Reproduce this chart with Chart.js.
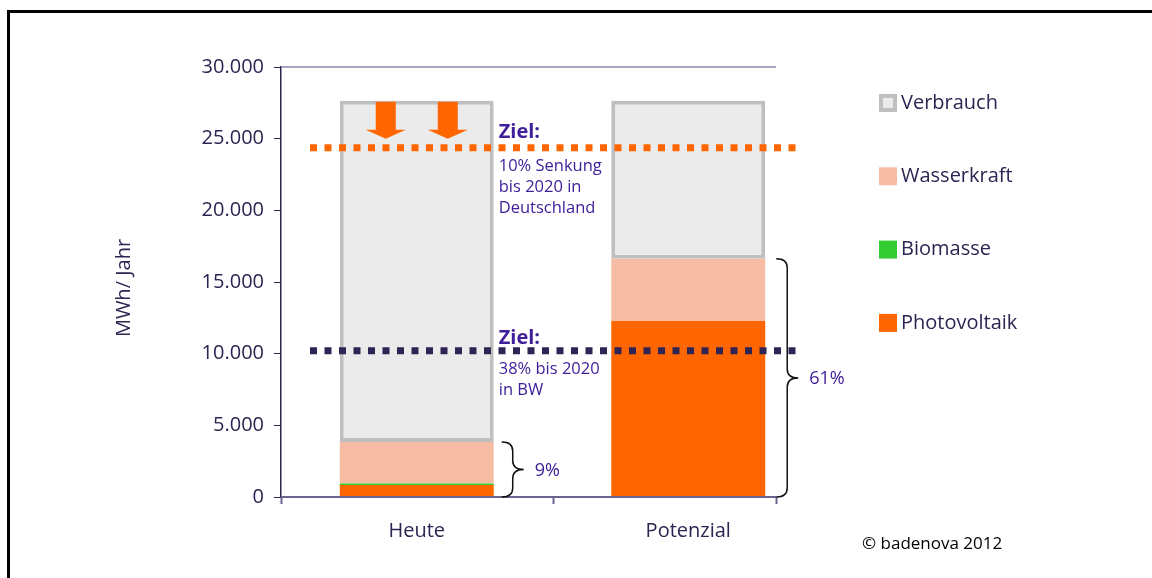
<!DOCTYPE html>
<html>
<head>
<meta charset="utf-8">
<script src="https://cdn.jsdelivr.net/npm/chart.js@4.4.1/dist/chart.umd.min.js"></script>
<style>
  html, body { margin: 0; padding: 0; background: #fff; }
  canvas { display: block; }
</style>
</head>
<body>
<canvas id="chart1" width="1152" height="578"></canvas>
<script>
// Daten (MWh/Jahr)
const categories = ['Heute', 'Potenzial'];
const photovoltaik = [840, 12280];
const biomasse = [110, 0];
const wasserkraft = [2890, 4340];
const verbrauch = [27650, 27650]; // Gesamtverbrauch
const zielDeutschland = 24370; // 10% Senkung
const zielBW = 10200; // 38% bis 2020
const anteile = ['9%', '61%'];

const navy = '#2E2452';
const purple = '#40209A';
const orange = '#FF6600';
const fontFamily = "'Open Sans', 'Noto Sans', sans-serif";

Chart.defaults.font.family = fontFamily;
Chart.defaults.color = navy;

function formatDe(v) {
  return String(v).replace(/\B(?=(\d{3})+(?!\d))/g, '.');
}

// Verbrauch wird als Rest über den Erneuerbaren gestapelt
const erneuerbar = categories.map((c, i) => photovoltaik[i] + biomasse[i] + wasserkraft[i]);
const verbrauchRest = categories.map((c, i) => verbrauch[i] - erneuerbar[i]);

const legendItems = [
  { label: 'Verbrauch', fill: '#EBEBEB', border: '#BFBFBF' },
  { label: 'Wasserkraft', fill: '#F7BDA4' },
  { label: 'Biomasse', fill: '#33CC33' },
  { label: 'Photovoltaik', fill: orange },
];

function drawBrace(ctx, x0, x1, yTop, yBot) {
  const xm = x0 + (x1 - x0) * 0.5;
  const ymid = (yTop + yBot) / 2;
  const r = 9;
  ctx.beginPath();
  ctx.moveTo(x0, yTop);
  ctx.quadraticCurveTo(xm, yTop, xm, yTop + r);
  ctx.lineTo(xm, ymid - r);
  ctx.quadraticCurveTo(xm, ymid, x1, ymid);
  ctx.quadraticCurveTo(xm, ymid, xm, ymid + r);
  ctx.lineTo(xm, yBot - r);
  ctx.quadraticCurveTo(xm, yBot, x0, yBot);
  ctx.strokeStyle = '#111';
  ctx.lineWidth = 1.5;
  ctx.stroke();
}

function drawArrow(ctx, cx, yTop, yTip) {
  ctx.fillStyle = orange;
  ctx.beginPath();
  ctx.moveTo(cx - 10, yTop);
  ctx.lineTo(cx + 10, yTop);
  ctx.lineTo(cx + 10, yTip - 9);
  ctx.lineTo(cx + 20, yTip - 9);
  ctx.lineTo(cx, yTip);
  ctx.lineTo(cx - 20, yTip - 9);
  ctx.lineTo(cx - 10, yTip - 9);
  ctx.closePath();
  ctx.fill();
}

const decoPlugin = {
  id: 'deco',
  beforeDraw(chart) {
    const ctx = chart.ctx;
    ctx.save();
    ctx.fillStyle = '#fff';
    ctx.fillRect(0, 0, chart.width, chart.height);
    // Rahmen
    ctx.strokeStyle = '#000';
    ctx.lineWidth = 3;
    ctx.beginPath();
    ctx.moveTo(8.5, chart.height);
    ctx.lineTo(8.5, 11.5);
    ctx.lineTo(chart.width, 11.5);
    ctx.stroke();
    ctx.restore();
  },
  afterDraw(chart) {
    const ctx = chart.ctx;
    const area = chart.chartArea;
    const x = chart.scales.x;
    const y = chart.scales.y;
    const axisEnd = area.left + 495;
    ctx.save();

    // obere Linie und x-Achse
    ctx.strokeStyle = '#8A86A5';
    ctx.lineWidth = 1.5;
    ctx.beginPath();
    ctx.moveTo(area.left, area.top);
    ctx.lineTo(axisEnd, area.top);
    ctx.stroke();
    ctx.strokeStyle = '#6B6591';
    ctx.lineWidth = 2;
    ctx.beginPath();
    ctx.moveTo(area.left, area.bottom);
    ctx.lineTo(axisEnd, area.bottom);
    const tickXs = [area.left, x.getPixelForValue(0.5), axisEnd];
    tickXs.forEach((tx) => {
      ctx.moveTo(Math.round(tx) + 0.5, area.bottom);
      ctx.lineTo(Math.round(tx) + 0.5, area.bottom + 7);
    });
    ctx.stroke();

    // Ziel-Linien
    ctx.lineWidth = 7;
    ctx.setLineDash([7, 7.5]);
    ctx.strokeStyle = orange;
    ctx.beginPath();
    ctx.moveTo(area.left + 29, y.getPixelForValue(zielDeutschland));
    ctx.lineTo(area.left + 520, y.getPixelForValue(zielDeutschland));
    ctx.stroke();
    ctx.strokeStyle = '#2F2454';
    ctx.beginPath();
    ctx.moveTo(area.left + 29, y.getPixelForValue(zielBW));
    ctx.lineTo(area.left + 520, y.getPixelForValue(zielBW));
    ctx.stroke();
    ctx.setLineDash([]);

    // Pfeile über dem heutigen Verbrauch
    const bar0 = chart.getDatasetMeta(0).data[0];
    const topV = y.getPixelForValue(verbrauch[0]);
    drawArrow(ctx, bar0.x - 31, topV + 1, topV + 38);
    drawArrow(ctx, bar0.x + 31, topV + 1, topV + 38);

    // Ziel-Texte
    ctx.fillStyle = purple;
    ctx.textAlign = 'left';
    ctx.textBaseline = 'middle';
    const tx = bar0.x + bar0.width / 2 + 5;
    ctx.font = 'bold 20px ' + fontFamily;
    ctx.fillText('Ziel:', tx, y.getPixelForValue(zielDeutschland) - 15);
    ctx.fillText('Ziel:', tx, y.getPixelForValue(zielBW) - 13);
    ctx.font = '16.5px ' + fontFamily;
    const yD = y.getPixelForValue(zielDeutschland);
    ['10% Senkung', 'bis 2020 in', 'Deutschland'].forEach((t, i) => {
      ctx.fillText(t, tx, yD + 19 + i * 21);
    });
    const yB = y.getPixelForValue(zielBW);
    ['38% bis 2020', 'in BW'].forEach((t, i) => {
      ctx.fillText(t, tx, yB + 18 + i * 21);
    });

    // Klammern mit Anteilen
    categories.forEach((c, i) => {
      const bar = chart.getDatasetMeta(0).data[i];
      const right = bar.x + bar.width / 2;
      const off = i === 0 ? 8 : 11;
      const x0 = right + off;
      const x1 = x0 + 22;
      const yTop = y.getPixelForValue(erneuerbar[i]);
      const yBot = y.getPixelForValue(0);
      drawBrace(ctx, x0, x1, yTop, yBot);
      ctx.fillStyle = purple;
      ctx.font = '18px ' + fontFamily;
      ctx.textAlign = 'left';
      ctx.textBaseline = 'middle';
      ctx.fillText(anteile[i], x1 + 11, (yTop + yBot) / 2 + 1);
    });

    // Legende
    ctx.font = '20px ' + fontFamily;
    legendItems.forEach((item, i) => {
      const cy = 103 + i * 73.3;
      if (item.border) {
        ctx.fillStyle = item.border;
        ctx.fillRect(879, cy - 9, 18, 18);
        ctx.fillStyle = item.fill;
        ctx.fillRect(883, cy - 5, 10, 10);
      } else {
        ctx.fillStyle = item.fill;
        ctx.fillRect(879, cy - 9, 18, 18);
      }
      ctx.fillStyle = navy;
      ctx.textAlign = 'left';
      ctx.textBaseline = 'middle';
      ctx.fillText(item.label, 901, cy);
    });

    // Achsentitel
    ctx.save();
    ctx.translate(124, 288);
    ctx.rotate(-Math.PI / 2);
    ctx.textAlign = 'center';
    ctx.textBaseline = 'middle';
    ctx.fillStyle = navy;
    ctx.font = '20px ' + fontFamily;
    ctx.fillText('MWh/ Jahr', 0, 0);
    ctx.restore();

    // Copyright
    ctx.fillStyle = '#000';
    ctx.font = '17px ' + fontFamily;
    ctx.textAlign = 'left';
    ctx.textBaseline = 'middle';
    ctx.fillText('\u00A9 badenova 2012', 862, 544);

    ctx.restore();
  },
};

const ctx = document.getElementById('chart1').getContext('2d');
const chart1 = new Chart(ctx, {
  type: 'bar',
  data: {
    labels: categories,
    datasets: [
      { label: 'Photovoltaik', data: photovoltaik, backgroundColor: orange },
      { label: 'Biomasse', data: biomasse, backgroundColor: '#33CC33' },
      { label: 'Wasserkraft', data: wasserkraft, backgroundColor: '#F7BDA4' },
      {
        label: 'Verbrauch',
        data: verbrauchRest,
        backgroundColor: '#EBEBEB',
        borderColor: '#BFBFBF',
        borderWidth: 4,
        borderSkipped: false,
      },
    ],
  },
  options: {
    responsive: false,
    animation: false,
    layout: { padding: { left: 0, top: 67, right: 328, bottom: 0 } },
    datasets: {
      bar: { categoryPercentage: 1, barPercentage: 0.567 },
    },
    plugins: {
      legend: { display: false },
      tooltip: { enabled: false },
    },
    scales: {
      x: {
        stacked: true,
        grid: { display: false, drawTicks: false },
        border: { display: false },
        ticks: { color: navy, font: { size: 20 }, padding: 22 },
        afterFit: (scale) => { scale.height = 81; },
      },
      y: {
        stacked: true,
        min: 0,
        max: 30000,
        grid: { drawOnChartArea: false, tickLength: 7, tickColor: navy, color: navy },
        border: { color: navy, width: 1.5 },
        ticks: {
          stepSize: 5000,
          color: navy,
          font: { size: 20 },
          padding: 10,
          callback: (v) => formatDe(v),
        },
        afterFit: (scale) => { scale.width = 281; },
      },
    },
  },
  plugins: [decoPlugin],
});
</script>
</body>
</html>
